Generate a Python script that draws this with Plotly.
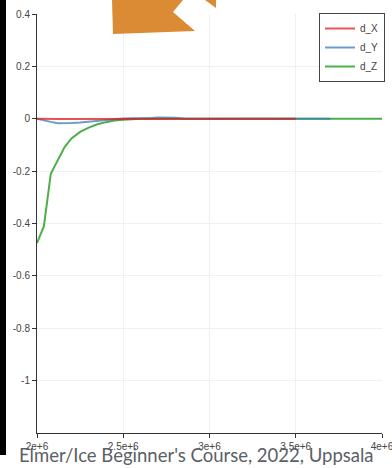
import plotly.graph_objects as go

# ---------------- data ----------------
x_X = [2.0e6, 2.04e6, 2.08e6, 2.12e6, 2.16e6, 2.2e6, 2.25e6, 2.3e6, 2.35e6, 2.4e6, 2.5e6,
       2.6e6, 2.7e6, 2.8e6, 2.9e6, 3.0e6, 3.1e6, 3.2e6, 3.3e6, 3.4e6, 3.5e6]
d_X = [0.0, -0.001, -0.001, -0.001, -0.001, -0.001, -0.001, -0.001, 0.0, 0.0, 0.0,
       0.0, 0.0, 0.0, 0.0, 0.0, 0.0, 0.0, 0.0, 0.0, 0.0]

x_Y = [2.0e6, 2.04e6, 2.08e6, 2.12e6, 2.16e6, 2.2e6, 2.25e6, 2.3e6, 2.35e6, 2.4e6, 2.45e6,
       2.5e6, 2.55e6, 2.6e6, 2.65e6, 2.7e6, 2.75e6, 2.8e6, 2.85e6, 2.9e6, 3.0e6, 3.1e6,
       3.2e6, 3.3e6, 3.4e6, 3.5e6, 3.6e6, 3.7e6]
d_Y = [0.0, -0.007, -0.012, -0.017, -0.017, -0.016, -0.014, -0.011, -0.006, -0.003, -0.001,
       0.001, 0.002, 0.001, 0.002, 0.005, 0.005, 0.004, 0.001, 0.0, 0.0, 0.0,
       0.0, 0.0, 0.0, 0.0, 0.0, 0.0]

x_Z = [2.0e6, 2.04e6, 2.08e6, 2.12e6, 2.16e6, 2.2e6, 2.25e6, 2.3e6, 2.35e6, 2.4e6, 2.45e6,
       2.5e6, 2.55e6, 2.6e6, 2.7e6, 2.8e6, 2.9e6, 3.0e6, 3.2e6, 3.4e6, 3.6e6, 3.8e6, 4.0e6]
d_Z = [-0.475, -0.41, -0.21, -0.158, -0.108, -0.075, -0.050, -0.034, -0.021, -0.013, -0.007,
       -0.004, -0.001, 0.0, 0.0, 0.0, 0.0, 0.0, 0.0, 0.0, 0.0, 0.0, 0.0]

x_tickvals = [2.0e6, 2.5e6, 3.0e6, 3.5e6, 4.0e6]
x_ticktext = ["2e+6", "2.5e+6", "3e+6", "3.5e+6", "4e+6"]
y_tickvals = [0.4, 0.2, 0.0, -0.2, -0.4, -0.6, -0.8, -1.0]
y_ticktext = ["0.4", "0.2", "0", "-0.2", "-0.4", "-0.6", "-0.8", "-1"]

footer_text = "Elmer/Ice Beginner's Course, 2022, Uppsala"

# ---------------- layout geometry ----------------
W, H = 392, 468
ML, MR, MT, MB = 37, 10, 14, 35
PW, PH = W - ML - MR, H - MT - MB


def px(x):
    return (x - ML) / PW


def py(y):
    return (H - MB - y) / PH


RED, BLUE, GREEN = "#e41a1c", "#377eb8", "#4daf4a"

fig = go.Figure()
fig.add_trace(go.Scatter(x=x_Z, y=d_Z, mode="lines", name="d_Z", legendrank=3,
                         line=dict(color=GREEN, width=2)))
fig.add_trace(go.Scatter(x=x_Y, y=d_Y, mode="lines", name="d_Y", legendrank=2,
                         line=dict(color=BLUE, width=2), opacity=0.75))
fig.add_trace(go.Scatter(x=x_X, y=d_X, mode="lines", name="d_X", legendrank=1,
                         line=dict(color=RED, width=2), opacity=0.75))

axis_common = dict(
    showline=True, linecolor="#333333", linewidth=1,
    ticks="outside", ticklen=4, tickcolor="#333333",
    showgrid=True, gridcolor="#f0f0f0", gridwidth=1,
    zeroline=False, ticklabeloverflow="allow",
    tickfont=dict(family="Liberation Sans", size=10, color="#444444"),
)

fig.update_xaxes(range=[2.0e6, 4.0e6], tickvals=x_tickvals, ticktext=x_ticktext, **axis_common)
fig.update_yaxes(range=[-1.2, 0.4], tickvals=y_tickvals, ticktext=y_ticktext, **axis_common)

# decoration: black strip at left and orange arrow at top
arrow1 = [(112, 0), (183, 0), (173, 12), (195, 31), (113, 34)]
arrow2 = [(205, 0), (216, 0), (216, 8)]


def path(pts):
    return "M" + " L".join(f"{px(a):.4f},{py(b):.4f}" for a, b in pts) + " Z"


shapes = [
    dict(type="rect", xref="paper", yref="paper", x0=px(0), x1=px(6), y0=py(455), y1=py(0),
         fillcolor="black", line=dict(width=0), layer="above"),
    dict(type="path", xref="paper", yref="paper", path=path(arrow1),
         fillcolor="#db8b34", line=dict(width=0), layer="above"),
    dict(type="path", xref="paper", yref="paper", path=path(arrow2),
         fillcolor="#db8b34", line=dict(width=0), layer="above"),
]

fig.update_layout(
    width=W, height=H,
    margin=dict(l=ML, r=MR, t=MT, b=MB, autoexpand=False),
    paper_bgcolor="white", plot_bgcolor="white",
    showlegend=True,
    legend=dict(x=px(385), xanchor="right", y=py(13), yanchor="top",
                bgcolor="white", bordercolor="#444444", borderwidth=1,
                font=dict(family="Liberation Sans", size=10, color="#444444"),
                itemwidth=30, tracegroupgap=0),
    shapes=shapes,
    annotations=[dict(text=footer_text, xref="paper", yref="paper",
                      x=px(17), y=py(455), xanchor="left", yanchor="middle",
                      showarrow=False,
                      font=dict(family="Lato", size=18.5, color="#5a6066"))],
)

fig.write_html("out.html", config={"displayModeBar": False},
               post_script="document.body.style.margin='0';document.body.style.overflow='hidden';")
